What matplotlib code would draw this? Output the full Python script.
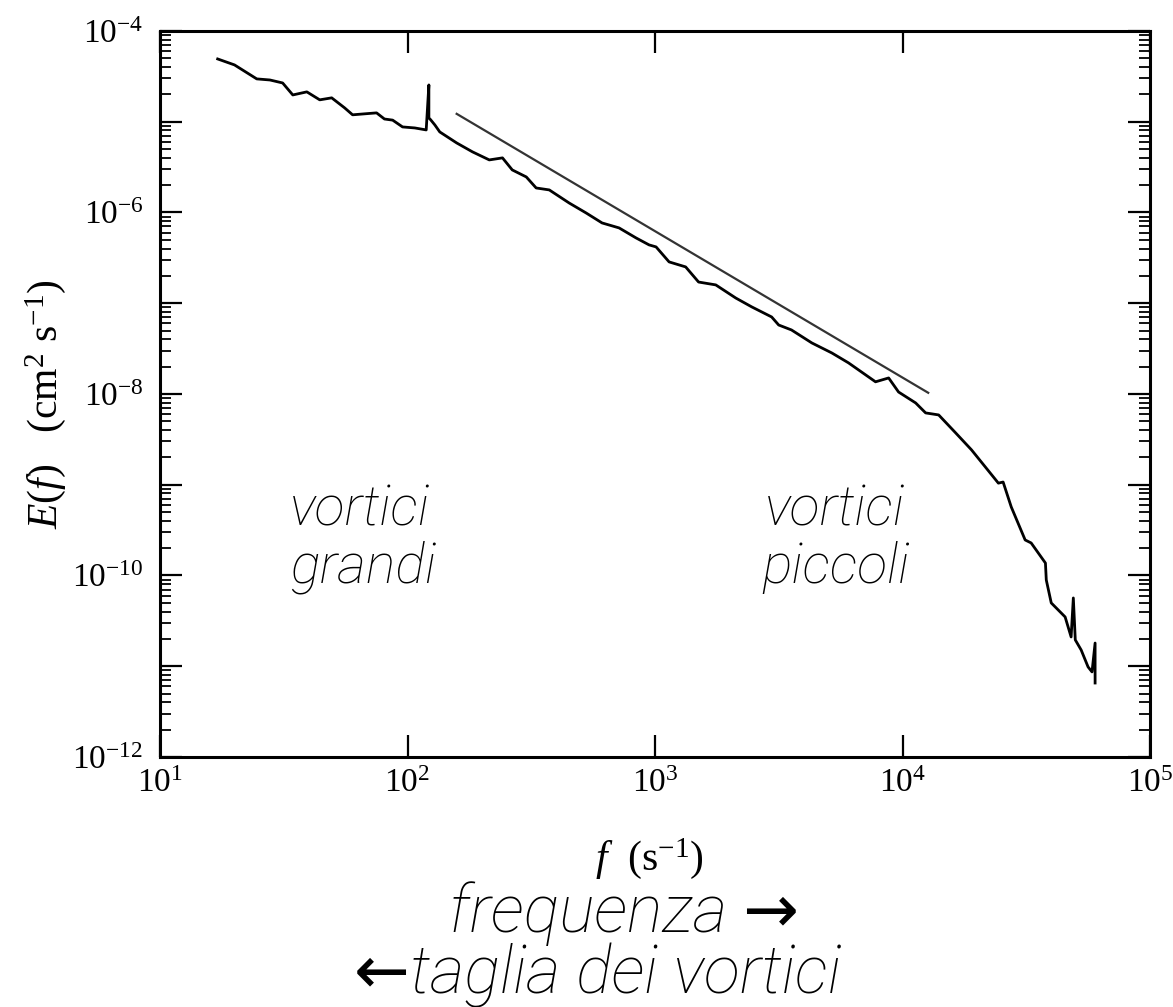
import matplotlib
matplotlib.use('Agg')
import matplotlib.pyplot as plt
import matplotlib.ticker as mticker
import numpy as np

plt.rcParams['font.family'] = ['Liberation Serif', 'DejaVu Serif']
plt.rcParams['mathtext.fontset'] = 'custom'
plt.rcParams['mathtext.rm'] = 'Liberation Serif'
plt.rcParams['mathtext.it'] = 'Liberation Serif:italic'

# spettro di energia
freq = [17.1, 20.0, 24.6, 27.8, 31.3, 34.4, 39.2, 44.2, 49.4, 55.7,
        60.0, 67.1, 75.0, 80.7, 87.1, 95.5, 107, 119, 122, 122,
        124, 129, 135, 158, 183, 214, 242, 265, 302, 331,
        374, 450, 527, 611, 716, 838, 946, 1010, 1140, 1330,
        1500, 1760, 2120, 2460, 2960, 3160, 3560, 4300, 5180, 6050,
        7780, 8790, 9640, 11300, 12400, 14000, 16400, 19000, 21600, 24400,
        25500, 27500, 31300, 33100, 37800, 38100, 39900, 45400, 48000, 49000,
        49900, 52700, 56200, 58300, 60000, 60000]
energy = [4.91e-5, 4.22e-5, 2.96e-5, 2.88e-5, 2.67e-5, 1.97e-5, 2.13e-5, 1.74e-5, 1.83e-5, 1.42e-5,
          1.19e-5, 1.22e-5, 1.25e-5, 1.07e-5, 1.04e-5, 8.75e-6, 8.53e-6, 8.11e-6, 2.54e-5, 1.10e-5,
          1.05e-5, 9.20e-6, 7.71e-6, 5.83e-6, 4.65e-6, 3.79e-6, 3.99e-6, 2.94e-6, 2.46e-6, 1.86e-6,
          1.77e-6, 1.27e-6, 9.86e-7, 7.66e-7, 6.75e-7, 5.24e-7, 4.39e-7, 4.17e-7, 2.85e-7, 2.51e-7,
          1.71e-7, 1.59e-7, 1.14e-7, 9.10e-8, 7.05e-8, 5.75e-8, 5.07e-8, 3.65e-8, 2.83e-8, 2.20e-8,
          1.36e-8, 1.50e-8, 1.05e-8, 7.96e-9, 6.18e-9, 5.87e-9, 3.72e-9, 2.42e-9, 1.57e-9, 1.04e-9,
          1.07e-9, 5.69e-10, 2.46e-10, 2.28e-10, 1.37e-10, 8.91e-11, 4.98e-11, 3.49e-11, 2.10e-11, 5.65e-11,
          1.95e-11, 1.51e-11, 9.82e-12, 8.65e-12, 1.80e-11, 6.53e-12]

# retta di riferimento (-5/3)
ref_f = [158, 12700]
ref_E = [1.22e-5, 1.03e-8]

fig = plt.figure(figsize=(11.73, 10.07), dpi=100)
ax = fig.add_axes([0.1364, 0.2483, 0.8440, 0.7210])

ax.plot(freq, energy, color='black', lw=2.0)
ax.plot(ref_f, ref_E, color='#333333', lw=1.6)

ax.set_xscale('log')
ax.set_yscale('log')
ax.set_xlim(1e1, 1e5)
ax.set_ylim(1e-12, 1e-4)

for s in ax.spines.values():
    s.set_linewidth(2.2)

# tick
ax.xaxis.set_major_locator(mticker.FixedLocator([1e1, 1e2, 1e3, 1e4, 1e5]))
ax.xaxis.set_minor_locator(mticker.NullLocator())
ax.set_xticklabels(['$10^{%d}$' % k for k in range(1, 6)])

ydec = list(range(-12, -3))
ax.yaxis.set_major_locator(mticker.FixedLocator([10.0 ** k for k in ydec]))
ax.yaxis.set_minor_locator(mticker.LogLocator(base=10, subs=np.arange(2, 10)))
ax.yaxis.set_minor_formatter(mticker.NullFormatter())
ax.set_yticklabels(['$10^{%d}$' % k if k % 2 == 0 else '' for k in ydec])

ax.tick_params(which='major', direction='in', length=16, width=1.6,
               top=True, right=True, labelsize=24)
ax.tick_params(axis='y', which='minor', direction='in', length=8, width=1.3,
               left=True, right=True)
ax.tick_params(axis='x', pad=8)
ax.tick_params(axis='y', pad=12)

fig.text(0.039, 0.599, r'$E(f)$   (cm$^2$ s$^{-1}$)', rotation=90,
         ha='center', va='center', fontsize=30)
fig.text(0.554, 1 - 870 / 1007, r'$f$  (s$^{-1}$)', ha='center', va='baseline', fontsize=30)

ann = dict(family=['Roboto', 'DejaVu Sans'], style='italic', fontweight='light')
fig.text(290 / 1173, 1 - 525 / 1007, 'vortici', fontsize=40, ha='left', va='baseline', **ann)
fig.text(290 / 1173, 1 - 583 / 1007, 'grandi', fontsize=40, ha='left', va='baseline', **ann)
fig.text(765 / 1173, 1 - 525 / 1007, 'vortici', fontsize=40, ha='left', va='baseline', **ann)
fig.text(762 / 1173, 1 - 583 / 1007, 'piccoli', fontsize=40, ha='left', va='baseline', **ann)
fig.text(624 / 1173, 1 - 932 / 1007, 'frequenza \u2192', fontsize=48, ha='center', va='baseline', **ann)
fig.text(598 / 1173, 1 - 994 / 1007, '\u2190taglia dei vortici', fontsize=48, ha='center', va='baseline', **ann)

fig.savefig('out.png', dpi=100)
